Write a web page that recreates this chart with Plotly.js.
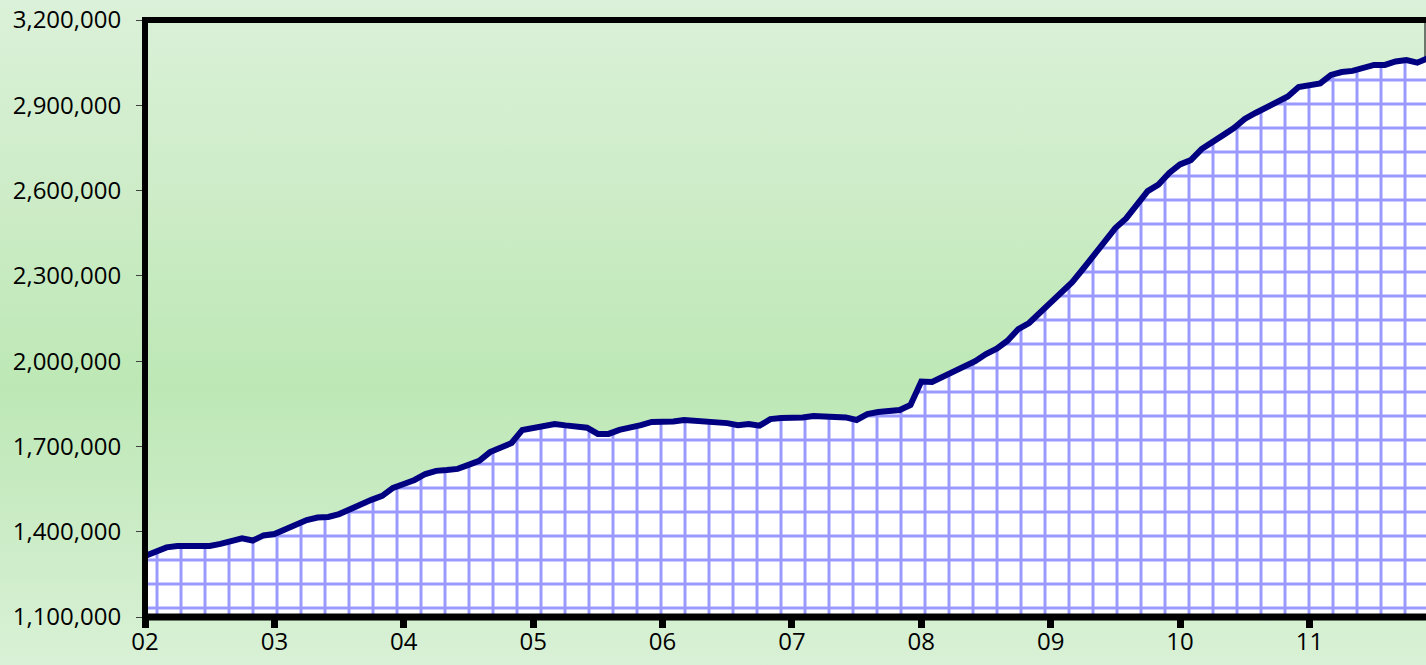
<!DOCTYPE html>
<html>
<head>
<meta charset="utf-8">
<script src="https://cdn.plot.ly/plotly-3.0.1.min.js"></script>
<style>
  html, body { margin: 0; padding: 0; overflow: hidden; width: 1426px; height: 665px; }
  body { background: linear-gradient(to bottom, #dbf1d9 0%, #cdecc7 30%, #bde8b5 58%, #cdecc8 82%, #d9f1d6 100%); }
  #chart { width: 1428px; height: 665px; }
</style>
</head>
<body>
<div id="chart"></div>
<script>
// Monthly categories, 2002-01 .. 2011-12
const years = ['2002','2003','2004','2005','2006','2007','2008','2009','2010','2011'];
const monthNums = ['01','02','03','04','05','06','07','08','09','10','11','12'];
const months = [];
years.forEach(y => monthNums.forEach(m => months.push(y + '-' + m)));

// Series values
const values = [
  1314500, 1332000, 1345000, 1350000, 1350000, 1350000, 1350000, 1357000, 1366000, 1377000, 1369000, 1387000,
  1392000, 1410000, 1425000, 1441000, 1450000, 1452000, 1462000, 1480000, 1499000, 1512000, 1526000, 1554000,
  1568000, 1582000, 1603000, 1614000, 1617000, 1621000, 1635000, 1649000, 1680000, 1698000, 1712000, 1758000,
  1765000, 1768000, 1779000, 1774000, 1772000, 1766000, 1744000, 1744000, 1758000, 1765000, 1775000, 1786000,
  1786000, 1788000, 1793000, 1790000, 1790000, 1788000, 1782000, 1775000, 1779000, 1773000, 1796000, 1800000,
  1800000, 1802000, 1807000, 1805000, 1803500, 1802000, 1793000, 1814000, 1821000, 1825000, 1828000, 1846000,
  1928000, 1927000, 1946000, 1964000, 1981000, 2000000, 2025000, 2044000, 2072000, 2113000, 2134000, 2169000,
  2204000, 2239000, 2278000, 2324000, 2370000, 2415000, 2468000, 2502000, 2549000, 2598000, 2621000, 2662000,
  2692000, 2707000, 2746000, 2773000, 2795000, 2820000, 2852000, 2873000, 2894000, 2915000, 2931000, 2964000,
  2973000, 2977000, 3007000, 3017000, 3021000, 3033000, 3042000, 3042000, 3054000, 3059000, 3050000, 3066000
];

// Tick labels
const xTickVals = years.map(y => y + '-01');
const xTickText = ['02','03','04','05','06','07','08','09','10','11'];
const yTickVals = [1100000, 1400000, 1700000, 2000000, 2300000, 2600000, 2900000, 3200000];

const W = 1428, H = 665, L = 145, R = 0, T = 20, B = 48;
const plotW = W - L - R;
const FONT = '"Open Sans", Lato, sans-serif';

const trace = {
  type: 'scatter',
  mode: 'lines',
  x: months,
  y: values,
  fill: 'tozeroy',
  fillcolor: 'white',
  fillpattern: { shape: '+', fgcolor: '#9999ff', bgcolor: '#ffffff', size: 24, solidity: 0.23 },
  line: { color: '#000080', width: 6 },
  hoverinfo: 'x+y'
};

const layout = {
  width: W, height: H,
  margin: { l: L, r: R, t: T, b: B, pad: 0 },
  paper_bgcolor: 'rgba(0,0,0,0)',
  plot_bgcolor: 'rgba(0,0,0,0)',
  showlegend: false,
  font: { family: FONT, size: 24, color: '#000000' },
  xaxis: {
    type: 'category',
    range: [0, months.length - 1],
    tickmode: 'array',
    tickvals: xTickVals,
    ticktext: xTickText,
    ticks: 'outside', ticklen: 10, tickwidth: 7, tickcolor: '#000000',
    showgrid: false, zeroline: false, showline: false,
    tickfont: { family: FONT, size: 24, color: '#000000' },
    ticklabelstandoff: -7,
    fixedrange: true
  },
  yaxis: {
    range: [1100000, 3200000],
    tickmode: 'array',
    tickvals: yTickVals,
    tickformat: ',d',
    ticks: 'outside', ticklen: 8, tickwidth: 1, tickcolor: '#404040',
    showgrid: false, zeroline: false, showline: false,
    tickfont: { family: FONT, size: 24, color: '#000000' },
    ticklabelstandoff: 10,
    fixedrange: true
  },
  shapes: [
    { type: 'line', xref: 'paper', yref: 'paper', x0: 0, x1: 1, y0: 1, y1: 1, line: { color: '#000000', width: 6 }, layer: 'above' },
    { type: 'line', xref: 'paper', yref: 'paper', x0: 0, x1: 1, y0: 0, y1: 0, line: { color: '#000000', width: 7 }, layer: 'above' },
    { type: 'line', xref: 'paper', yref: 'paper', x0: 0, x1: 0, y0: -0.005, y1: 1.005, line: { color: '#000000', width: 6 }, layer: 'above' },
    { type: 'line', xref: 'paper', yref: 'paper', x0: (1425 - L) / plotW, x1: (1425 - L) / plotW, y0: 0, y1: 1, line: { color: '#000000', width: 1 }, layer: 'below' }
  ]
};

Plotly.newPlot('chart', [trace], layout, { displayModeBar: false, staticPlot: true });
</script>
</body>
</html>
